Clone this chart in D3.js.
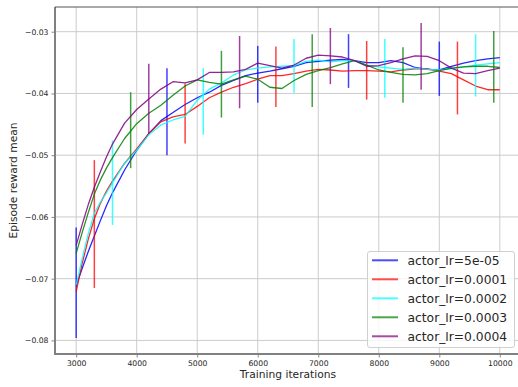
<!DOCTYPE html>
<html lang="en">
<head>
    <meta charset="UTF-8">
    <title>Episode reward mean</title>
    <script src="https://d3js.org/d3.v7.min.js"></script>
    <style>
        body { margin: 0; background: #fff; }
        text { font-family: "DejaVu Sans", sans-serif; fill: #262626; }
    </style>
</head>
<body>
    <div id="my_dataviz"></div>
    <script>
        // training iterations (shared by all curves)
        var iters = [3000, 3100, 3200, 3300, 3400, 3500, 3600, 3800, 4000, 4200, 4400, 4600, 4800,
            5000, 5200, 5400, 5600, 5800, 6000, 6200, 6400, 6600, 6800, 7000, 7200, 7400, 7600,
            7800, 8000, 8200, 8400, 8600, 8800, 9000, 9200, 9400, 9600, 9800, 10000];

        var lr5e05 = [-0.0711, -0.0683, -0.0656, -0.0631, -0.0606, -0.0582, -0.0561, -0.0524, -0.0492, -0.0465, -0.0444, -0.0431, -0.0418,
            -0.0407, -0.0398, -0.0387, -0.0379, -0.0371, -0.0367, -0.0364, -0.0360, -0.0356, -0.0350, -0.0348, -0.0346, -0.0345, -0.0347,
            -0.0350, -0.0350, -0.0347, -0.0350, -0.0358, -0.0361, -0.0362, -0.0356, -0.0351, -0.0347, -0.0344, -0.0342];
        var lr1e04 = [-0.0721, -0.0675, -0.0636, -0.0603, -0.0578, -0.0558, -0.0542, -0.0513, -0.0490, -0.0465, -0.0446, -0.0438, -0.0434,
            -0.0421, -0.0407, -0.0398, -0.0390, -0.0384, -0.0377, -0.0371, -0.0371, -0.0368, -0.0364, -0.0361, -0.0362, -0.0364, -0.0363,
            -0.0363, -0.0364, -0.0365, -0.0362, -0.0360, -0.0360, -0.0364, -0.0368, -0.0378, -0.0388, -0.0394, -0.0394];
        var lr2e04 = [-0.0710, -0.0667, -0.0627, -0.0594, -0.0576, -0.0561, -0.0545, -0.0513, -0.0492, -0.0467, -0.0451, -0.0443, -0.0437,
            -0.0411, -0.0393, -0.0383, -0.0370, -0.0362, -0.0359, -0.0357, -0.0356, -0.0355, -0.0348, -0.0346, -0.0349, -0.0347, -0.0347,
            -0.0354, -0.0357, -0.0359, -0.0361, -0.0359, -0.0361, -0.0362, -0.0360, -0.0357, -0.0354, -0.0352, -0.0350];
        var lr3e04 = [-0.0659, -0.0625, -0.0593, -0.0563, -0.0540, -0.0521, -0.0504, -0.0473, -0.0449, -0.0432, -0.0419, -0.0403, -0.0388,
            -0.0378, -0.0382, -0.0385, -0.0378, -0.0372, -0.0377, -0.0390, -0.0392, -0.0379, -0.0369, -0.0363, -0.0358, -0.0352, -0.0347,
            -0.0354, -0.0362, -0.0366, -0.0369, -0.0370, -0.0368, -0.0363, -0.0359, -0.0357, -0.0356, -0.0356, -0.0358];
        var lr4e04 = [-0.0646, -0.0612, -0.0580, -0.0552, -0.0527, -0.0503, -0.0482, -0.0448, -0.0426, -0.0409, -0.0393, -0.0381, -0.0383,
            -0.0378, -0.0366, -0.0366, -0.0365, -0.0361, -0.0351, -0.0355, -0.0359, -0.0354, -0.0343, -0.0338, -0.0339, -0.0341, -0.0347,
            -0.0356, -0.0355, -0.0350, -0.0344, -0.0339, -0.0340, -0.0347, -0.0359, -0.0367, -0.0368, -0.0363, -0.0359];

        // error bars: iteration, low, high
        var bars5e05 = [[3000, -0.0796, -0.0617], [4500, -0.0500, -0.0359], [6000, -0.0415, -0.0323], [7500, -0.0391, -0.0304], [9000, -0.0404, -0.0316]];
        var bars1e04 = [[3300, -0.0715, -0.0508], [4800, -0.0481, -0.0384], [6300, -0.0422, -0.0324], [7800, -0.0410, -0.0315], [9300, -0.0434, -0.0316]];
        var bars2e04 = [[3600, -0.0613, -0.0476], [5100, -0.0467, -0.0359], [6600, -0.0399, -0.0312], [8100, -0.0407, -0.0312], [9600, -0.0405, -0.0304]];
        var bars3e04 = [[3900, -0.0521, -0.0398], [5400, -0.0439, -0.0331], [6900, -0.0422, -0.0304], [8400, -0.0415, -0.0325], [9900, -0.0415, -0.0299]];
        var bars4e04 = [[4200, -0.0465, -0.0352], [5700, -0.0424, -0.0307], [7200, -0.0385, -0.0294], [8700, -0.0394, -0.0286]];

        var names = ["actor_lr=5e-05", "actor_lr=0.0001", "actor_lr=0.0002", "actor_lr=0.0003", "actor_lr=0.0004"];
        var colors = ["#0000ff", "#ff0000", "#00ffff", "#008000", "#800080"];
        var xTicks = [3000, 4000, 5000, 6000, 7000, 8000, 9000, 10000];
        var yTicks = [-0.08, -0.07, -0.06, -0.05, -0.04, -0.03];

        var series = [lr5e05, lr1e04, lr2e04, lr3e04, lr4e04].map(function(vals, i) {
            return { name: names[i], color: colors[i], values: vals };
        });
        var barSets = [bars5e05, bars1e04, bars2e04, bars3e04, bars4e04];

        // plot box (note: "top" is reserved on window, so use px* names)
        var W = 518, H = 387;
        var pxLeft = 55, pxRight = 521, pxTop = 7, pxBottom = 354;

        var svg = d3.select("#my_dataviz")
          .append("svg")
            .attr("width", W)
            .attr("height", H);

        var x = d3.scaleLinear().domain([2650, 10350]).range([pxLeft, pxRight]);
        var y = d3.scaleLinear().domain([-0.0822, -0.026]).range([pxBottom, pxTop]);

        svg.append("defs").append("clipPath").attr("id", "clip")
          .append("rect")
            .attr("x", pxLeft).attr("y", pxTop)
            .attr("width", pxRight - pxLeft).attr("height", pxBottom - pxTop);

        // grid
        svg.append("g")
            .selectAll("line")
            .data(xTicks)
            .enter().append("line")
              .attr("x1", function(d) { return x(d); })
              .attr("x2", function(d) { return x(d); })
              .attr("y1", pxTop).attr("y2", pxBottom)
              .attr("stroke", "#cccccc").attr("stroke-width", 1);
        svg.append("g")
            .selectAll("line")
            .data(yTicks)
            .enter().append("line")
              .attr("x1", pxLeft).attr("x2", pxRight)
              .attr("y1", function(d) { return y(d); })
              .attr("y2", function(d) { return y(d); })
              .attr("stroke", "#cccccc").attr("stroke-width", 1);

        var plot = svg.append("g").attr("clip-path", "url(#clip)");

        var line = d3.line()
            .x(function(d, i) { return x(iters[i]); })
            .y(function(d) { return y(d); });

        series.forEach(function(s, i) {
            plot.append("path")
                .datum(s.values)
                .attr("fill", "none")
                .attr("stroke", s.color)
                .attr("stroke-opacity", 0.85)
                .attr("stroke-width", 1.3)
                .attr("stroke-linejoin", "round")
                .attr("d", line);

            plot.append("g")
                .selectAll("line")
                .data(barSets[i])
                .enter().append("line")
                  .attr("x1", function(d) { return x(d[0]); })
                  .attr("x2", function(d) { return x(d[0]); })
                  .attr("y1", function(d) { return y(d[1]); })
                  .attr("y2", function(d) { return y(d[2]); })
                  .attr("stroke", s.color)
                  .attr("stroke-opacity", 0.75)
                  .attr("stroke-width", 1.5);
        });

        // axes
        var xAxis = svg.append("g")
            .attr("transform", "translate(0," + pxBottom + ")")
            .call(d3.axisBottom(x).tickValues(xTicks).tickSize(3.5).tickPadding(3).tickFormat(d3.format("d")));
        var yAxis = svg.append("g")
            .attr("transform", "translate(" + pxLeft + ",0)")
            .call(d3.axisLeft(y).tickValues(yTicks).tickSize(3.5).tickPadding(3).tickFormat(d3.format(".2f")));

        [xAxis, yAxis].forEach(function(a) {
            a.select(".domain").remove();
            a.selectAll(".tick line").attr("stroke", "#888");
            a.selectAll(".tick text")
                .style("font-family", "'DejaVu Sans', sans-serif")
                .style("font-size", "7.7px")
                .attr("fill", "#262626");
        });

        // spines
        svg.append("line")
            .attr("x1", pxLeft).attr("x2", pxLeft).attr("y1", pxTop).attr("y2", pxBottom + 1)
            .attr("stroke", "#808080").attr("stroke-width", 2);
        svg.append("line")
            .attr("x1", pxLeft - 1).attr("x2", pxRight).attr("y1", pxBottom).attr("y2", pxBottom)
            .attr("stroke", "#808080").attr("stroke-width", 2);
        svg.append("line")
            .attr("x1", pxLeft).attr("x2", pxRight).attr("y1", pxTop).attr("y2", pxTop)
            .attr("stroke", "#555").attr("stroke-width", 1);

        // axis labels
        svg.append("text")
            .attr("x", (pxLeft + pxRight) / 2)
            .attr("y", 378)
            .style("text-anchor", "middle")
            .style("font-size", "10.7px")
            .text("Training iterations");

        svg.append("text")
            .attr("transform", "rotate(-90)")
            .attr("x", -(pxTop + pxBottom) / 2)
            .attr("y", 17)
            .style("text-anchor", "middle")
            .style("font-size", "10.7px")
            .text("Episode reward mean");

        // legend
        var lg = svg.append("g");
        lg.append("rect")
            .attr("x", 367.5).attr("y", 251.5)
            .attr("width", 147).attr("height", 96)
            .attr("rx", 2.5)
            .attr("fill", "#ffffff").attr("fill-opacity", 0.8)
            .attr("stroke", "#d0d0d0").attr("stroke-width", 1);

        var item = lg.selectAll(".item")
            .data(series)
            .enter().append("g")
              .attr("transform", function(d, i) { return "translate(0," + (260.3 + i * 19) + ")"; });
        item.append("line")
            .attr("x1", 372).attr("x2", 398)
            .attr("stroke", function(d) { return d.color; })
            .attr("stroke-opacity", 0.7)
            .attr("stroke-width", 2);
        item.append("text")
            .attr("x", 407.5)
            .attr("dy", "0.36em")
            .style("font-size", "12.3px")
            .text(function(d) { return d.name; });
    </script>
</body>
</html>
